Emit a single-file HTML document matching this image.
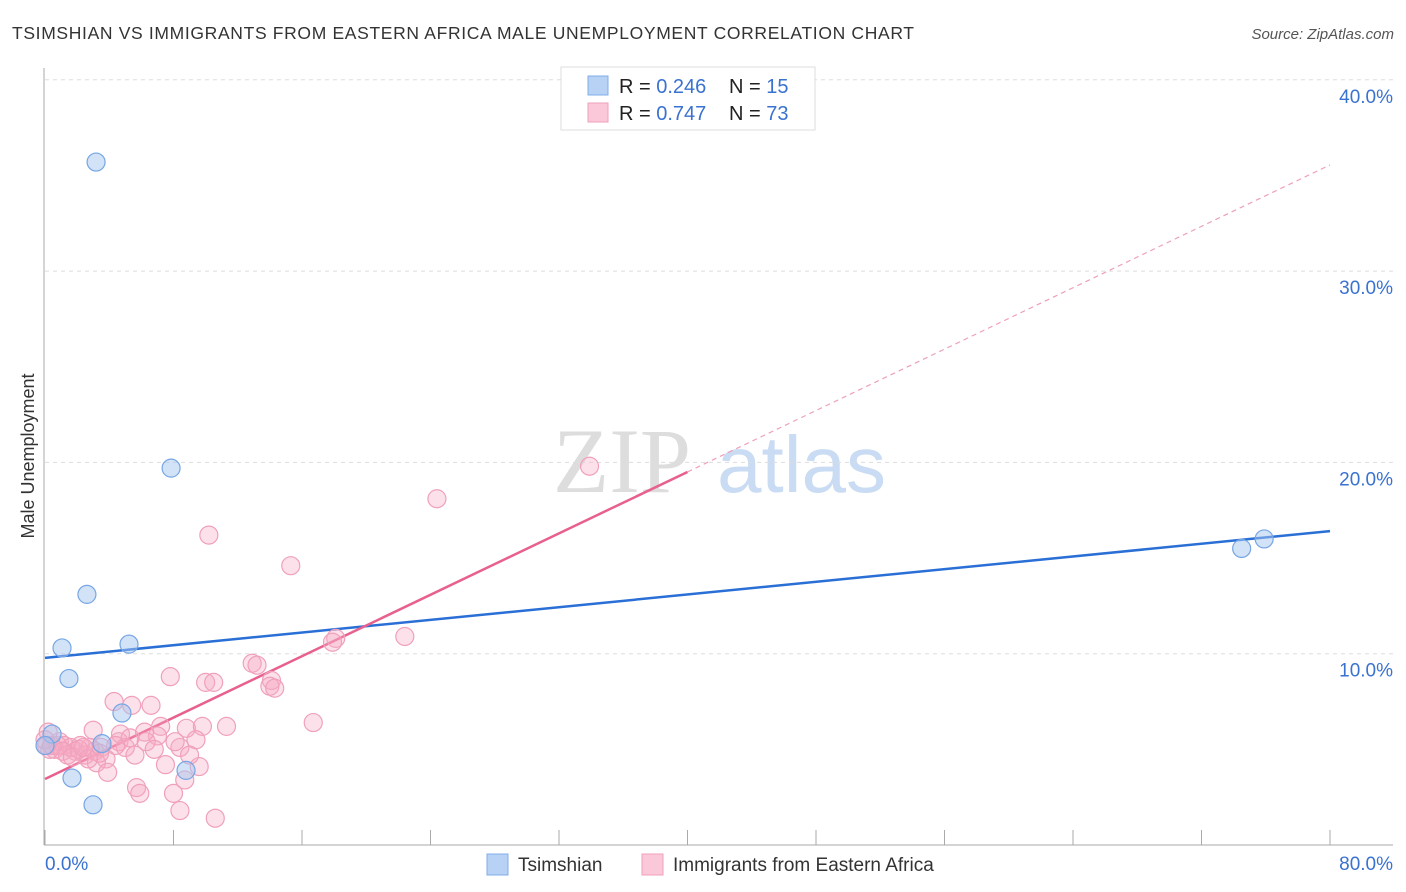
<!DOCTYPE html>
<html><head><meta charset="utf-8"><style>
body{margin:0;background:#fff;font-family:"Liberation Sans",sans-serif;}
svg{display:block}
</style></head><body>
<svg id="chart" width="1406" height="892">
<text x="12" y="39" font-size="17.5" fill="#333" textLength="902">TSIMSHIAN VS IMMIGRANTS FROM EASTERN AFRICA MALE UNEMPLOYMENT CORRELATION CHART</text>
<text x="1394" y="39" font-size="15" fill="#555" font-style="italic" text-anchor="end">Source: ZipAtlas.com</text>
<text transform="translate(34,456) rotate(-90)" font-size="18" fill="#333" text-anchor="middle">Male Unemployment</text>
<g>
<text x="553" y="492" font-size="92" font-family="Liberation Serif,serif" fill="#ddd">ZIP</text>
<text x="717" y="492" font-size="80" fill="#c9dcf3">atlas</text>
</g>
<g id="grid"></g><g id="axes"></g><g id="lines"></g><g id="pts"></g>
<g>
<rect x="561" y="67" width="254" height="63" fill="#fff" stroke="#ddd"/>
<rect x="588" y="76" width="20" height="19" fill="#b8d2f5" stroke="#80aee8"/>
<rect x="588" y="103" width="20" height="19" fill="#fac8d8" stroke="#f0a0bb"/>
<text x="619" y="93" font-size="20" fill="#222">R = <tspan fill="#3a72d0">0.246</tspan></text>
<text x="729" y="93" font-size="20" fill="#222">N = <tspan fill="#3a72d0">15</tspan></text>
<text x="619" y="120" font-size="20" fill="#222">R = <tspan fill="#3a72d0"> 0.747</tspan></text>
<text x="729" y="120" font-size="20" fill="#222">N = <tspan fill="#3a72d0">73</tspan></text>
</g>
<g>
<rect x="487" y="854" width="21" height="21" fill="#b8d2f5" stroke="#80aee8"/>
<text x="518" y="871" font-size="19" fill="#333">Tsimshian</text>
<rect x="642" y="854" width="21" height="21" fill="#fac8d8" stroke="#f0a0bb"/>
<text x="673" y="871" font-size="19" fill="#333">Immigrants from Eastern Africa</text>
</g>
</svg>
<script>
const yTicks=[10,20,30,40];
const yTickLabels=["10.0%","20.0%","30.0%","40.0%"];
const xTickLabels=["0.0%","80.0%"];
const tsX=[3.18,7.85,2.61,1.06,5.23,1.49,4.79,3.55,0.44,0.0,1.68,2.99,8.78,74.5,75.9];
const tsY=[35.7,19.7,13.1,10.3,10.5,8.7,6.9,5.3,5.8,5.2,3.5,2.1,3.9,15.5,16.0];
const imX=[33.9,24.4,10.2,15.3,18.1,17.9,22.4,12.9,13.2,14.1,14.0,14.3,7.8,10.0,10.5,16.7,11.3,4.3,5.4,6.6,3.0,4.7,7.2,7.0,8.8,9.8,4.6,6.3,8.4,9.4,5.0,3.5,0.9,0.2,0.6,1.2,1.9,2.5,3.1,3.8,4.4,5.6,6.8,7.5,3.2,3.9,5.7,5.9,8.0,8.7,9.6,8.4,10.6,0.3,0.1,1.6,2.2,2.8,3.4,0.8,1.4,2.1,2.7,0.0,0.4,1.1,1.7,2.4,5.3,6.2,8.1,9.0];
const imY=[19.8,18.1,16.2,14.6,10.8,10.6,10.9,9.5,9.4,8.6,8.3,8.2,8.8,8.5,8.5,6.4,6.2,7.5,7.3,7.3,6.0,5.8,6.2,5.7,6.1,6.2,5.4,5.4,5.1,5.5,5.1,5.1,5.4,5.9,5.0,5.2,4.9,4.7,4.9,4.5,5.2,4.7,5.0,4.2,4.3,3.8,3.0,2.7,2.7,3.4,4.1,1.8,1.4,5.0,5.2,5.1,5.2,5.1,4.8,5.2,4.7,5.0,4.5,5.5,5.2,4.9,4.6,5.1,5.6,5.9,5.4,4.7];
const tsLine=[9.78,16.41];
const imLine=[3.45,35.55];
const imSolidEnd=40;
const NS="http://www.w3.org/2000/svg";
const X=v=>45+v/80*1285, Y=v=>845-v/10*191.3;
function mk(tag,attrs,parent){const e=document.createElementNS(NS,tag);for(const k in attrs)e.setAttribute(k,attrs[k]);document.getElementById(parent).appendChild(e);return e;}
yTicks.forEach((t,i)=>{
 const g=mk('line',{x1:45,x2:1393,y1:Y(t),y2:Y(t),stroke:'#ddd','stroke-dasharray':'4,4'},'grid');
 
 
 const l=mk('text',{x:1393,y:Y(t)+23,'font-size':19,fill:'#3a72d0','text-anchor':'end'},'grid');
 l.textContent=yTickLabels[i];
 
 
});
mk('line',{x1:44,x2:44,y1:68,y2:845,stroke:'#aaa'},'axes');
mk('line',{x1:44,x2:1393,y1:845,y2:845,stroke:'#aaa'},'axes');
for(let i=0;i<=10;i++){mk('line',{x1:X(i*8),x2:X(i*8),y1:830,y2:845,stroke:'#aaa'},'axes');}
const xl0=mk('text',{x:45,y:870,'font-size':19,fill:'#3a72d0'},'axes');xl0.textContent=xTickLabels[0];


const xl1=mk('text',{x:1393,y:870,'font-size':19,fill:'#3a72d0','text-anchor':'end'},'axes');xl1.textContent=xTickLabels[1];


function draw(xs,ys,fill,stroke,name){xs.forEach((x,i)=>{const c=mk('circle',{cx:X(x),cy:Y(ys[i]),r:9,fill:fill,stroke:stroke,'stroke-width':1.2},'pts');
 
 });}
draw(imX,imY,'rgba(246,170,196,0.35)','#f0a0bb','point-immigrants');
draw(tsX,tsY,'rgba(165,198,240,0.5)','#76a6e4','point-tsimshian');
const b=mk('line',{x1:X(0),y1:Y(tsLine[0]),x2:X(80),y2:Y(tsLine[1]),stroke:'#2a6fd6','stroke-width':2.5},'lines');


const pAt=x=>imLine[0]+(imLine[1]-imLine[0])*x/80;
const p=mk('line',{x1:X(0),y1:Y(pAt(0)),x2:X(imSolidEnd),y2:Y(pAt(imSolidEnd)),stroke:'#e8608e','stroke-width':2.5},'lines');


const pd=mk('line',{x1:X(imSolidEnd),y1:Y(pAt(imSolidEnd)),x2:X(80),y2:Y(pAt(80)),stroke:'#eea0b8','stroke-width':1.2,'stroke-dasharray':'5,4'},'lines');


</script>
</body></html>
